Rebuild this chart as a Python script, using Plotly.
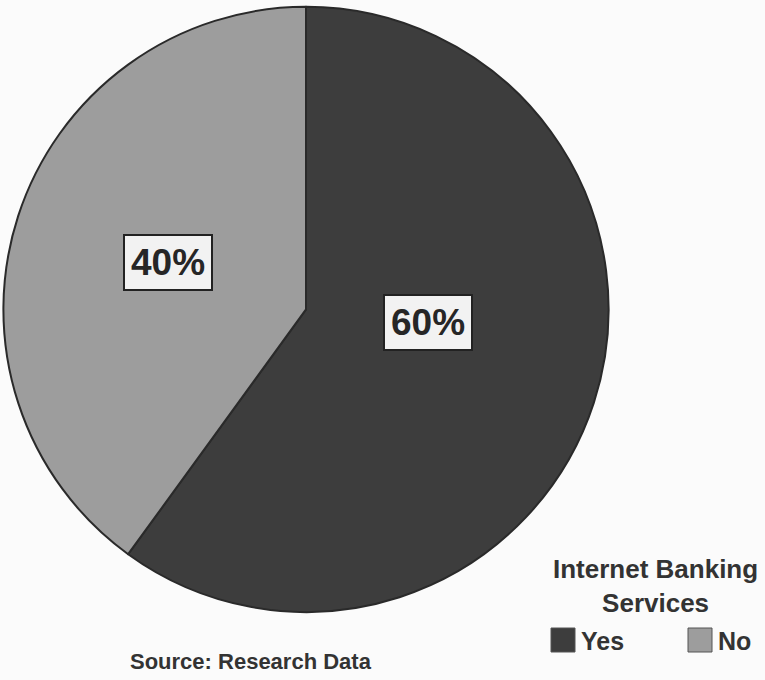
import plotly.graph_objects as go

# ---- data ----
categories = ["Yes", "No"]
values = [60, 40]
pct_labels = ["60%", "40%"]
colors = ["#3d3d3d", "#9d9d9d"]
legend_title = "Internet Banking<br>Services"
source_text = "Source: Research Data"

FONT = "Liberation Sans, Arial, sans-serif"
W, H = 765, 680

fig = go.Figure(go.Pie(
    labels=categories,
    values=values,
    sort=False,
    direction="clockwise",
    rotation=0,
    marker=dict(colors=colors, line=dict(color="#2a2a2a", width=2)),
    textinfo="none",
    hoverinfo="label+percent",
    showlegend=False,
    domain=dict(x=[0.0, 0.8], y=[0.10, 0.99]),
))

# percent labels in boxed annotations (positions in paper coords)
label_pos = {"Yes": (428 / W, 1 - 322 / H), "No": (168 / W, 1 - 262 / H)}
annotations = []
for cat, txt in zip(categories, pct_labels):
    x, y = label_pos[cat]
    annotations.append(dict(
        x=x, y=y, xref="paper", yref="paper", text=f"<b>{txt}</b>",
        showarrow=False, font=dict(family=FONT, size=37, color="#262626"),
        bgcolor="#f2f2f2", bordercolor="#222222", borderwidth=2, borderpad=6,
        xanchor="center", yanchor="middle",
    ))

# legend title
annotations.append(dict(
    x=655 / W, y=1 - 586 / H, xref="paper", yref="paper",
    text=f"<b>{legend_title}</b>", showarrow=False, align="center",
    font=dict(family=FONT, size=26, color="#333333"),
    xanchor="center", yanchor="middle",
))

# legend entries (swatch + label)
shapes = []
swatch_left = [551, 688]
for cat, col, sx in zip(categories, colors, swatch_left):
    shapes.append(dict(
        type="rect", xref="paper", yref="paper",
        x0=sx / W, x1=(sx + 24) / W, y0=1 - 652 / H, y1=1 - 628 / H,
        fillcolor=col, line=dict(color="#555555", width=1),
    ))
    annotations.append(dict(
        x=(sx + 28) / W, y=1 - 641 / H, xref="paper", yref="paper",
        text=f"<b>{cat}</b>", showarrow=False,
        font=dict(family=FONT, size=25, color="#333333"),
        xanchor="left", yanchor="middle",
    ))

# source note
annotations.append(dict(
    x=251 / W, y=1 - 661 / H, xref="paper", yref="paper",
    text=f"<b>{source_text}</b>", showarrow=False,
    font=dict(family=FONT, size=22, color="#333333"),
    xanchor="center", yanchor="middle",
))

fig.update_layout(
    width=W, height=H,
    margin=dict(l=0, r=0, t=0, b=0),
    paper_bgcolor="#fbfbfb",
    plot_bgcolor="#fbfbfb",
    annotations=annotations,
    shapes=shapes,
)

fig.write_html(
    "out.html",
    config={"displayModeBar": False},
    post_script="document.body.style.margin='0';document.body.style.overflow='hidden';",
)
